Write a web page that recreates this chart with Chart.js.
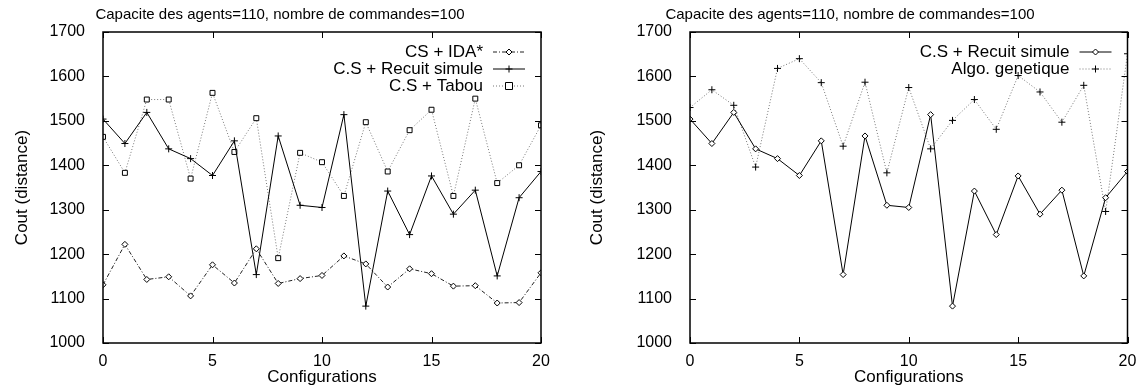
<!DOCTYPE html>
<html>
<head>
<meta charset="utf-8">
<script src="https://cdn.jsdelivr.net/npm/chart.js@4.4.0/dist/chart.umd.min.js"></script>
<style>
  body { margin: 0; background: #fff; }
  .wrap { position: absolute; top: 0; }
</style>
</head>
<body>
<div class="wrap" style="left:0"><canvas id="chartLeft" width="570" height="388"></canvas></div>
<div class="wrap" style="left:570px"><canvas id="chartRight" width="571" height="388"></canvas></div>
<script>
const configs = [0, 1, 2, 3, 4, 5, 6, 7, 8, 9, 10, 11, 12, 13, 14, 15, 16, 17, 18, 19, 20];
const idaStar = [1131, 1222, 1143, 1149, 1106, 1176, 1135, 1212, 1134, 1145, 1152, 1196, 1178, 1126, 1167, 1156, 1128, 1129, 1090, 1091, 1158];
const recuit = [1504, 1449, 1519, 1437, 1415, 1377, 1455, 1154, 1466, 1310, 1305, 1514, 1083, 1342, 1244, 1376, 1290, 1344, 1151, 1327, 1386];
const tabou = [1464, 1383, 1548, 1548, 1370, 1563, 1430, 1506, 1191, 1428, 1407, 1331, 1497, 1386, 1479, 1525, 1331, 1550, 1360, 1400, 1490];
const genetique = [1530, 1570, 1535, 1396, 1618, 1640, 1586, 1443, 1587, 1383, 1575, 1437, 1501, 1548, 1481, 1602, 1565, 1497, 1580, 1296, 1651];
const yTicks = [1000, 1100, 1200, 1300, 1400, 1500, 1600, 1700];
const xTicks = [0, 5, 10, 15, 20];

const titleText = 'Capacite des agents=110, nombre de commandes=100';
const FONT = '"Liberation Sans", Arial, sans-serif';

const toPoints = (vals) => vals.map((v, i) => ({ x: configs[i], y: v }));

// draws a marker the same way in the key
function drawMarker(ctx, style, r, x, y) {
  ctx.beginPath();
  if (style === 'rectRot') {
    ctx.moveTo(x, y - r); ctx.lineTo(x + r, y); ctx.lineTo(x, y + r); ctx.lineTo(x - r, y); ctx.closePath();
    ctx.fillStyle = '#fff'; ctx.fill(); ctx.stroke();
  } else if (style === 'rect') {
    ctx.rect(x - r, y - r, 2 * r, 2 * r);
    ctx.fillStyle = '#fff'; ctx.fill(); ctx.stroke();
  } else {
    ctx.moveTo(x - r, y); ctx.lineTo(x + r, y); ctx.moveTo(x, y - r); ctx.lineTo(x, y + r);
    ctx.stroke();
  }
}

// frame with inward ticks, title + gnuplot style key
const framePlugin = {
  id: 'frame',
  afterDatasetsDraw(chart) {
    const { ctx, chartArea: a, scales } = chart;
    ctx.save();
    ctx.strokeStyle = '#000';
    ctx.lineWidth = 1;
    const tl = 6;
    ctx.beginPath();
    yTicks.forEach(v => {
      const y = Math.round(scales.y.getPixelForValue(v)) + 0.5;
      ctx.moveTo(a.left, y); ctx.lineTo(a.left + tl, y);
      ctx.moveTo(a.right, y); ctx.lineTo(a.right - tl, y);
    });
    xTicks.forEach(v => {
      const x = Math.round(scales.x.getPixelForValue(v)) + 0.5;
      ctx.moveTo(x, a.bottom); ctx.lineTo(x, a.bottom - tl);
      ctx.moveTo(x, a.top); ctx.lineTo(x, a.top + tl);
    });
    ctx.stroke();
    ctx.lineWidth = 1.5;
    ctx.strokeRect(a.left, a.top, a.right - a.left, a.bottom - a.top);

    // title, centred on the canvas like gnuplot does
    ctx.fillStyle = '#000';
    ctx.textAlign = 'center';
    ctx.textBaseline = 'middle';
    ctx.font = '15px ' + FONT;
    ctx.fillText(titleText, 280, 15);

    // key
    ctx.font = '17px ' + FONT;
    ctx.textAlign = 'right';
    chart.data.datasets.forEach((ds, i) => {
      const y = 52 + i * 17;
      ctx.fillStyle = '#000';
      ctx.fillText(ds.label, a.right - 58, y);
      ctx.strokeStyle = ds.borderColor;
      ctx.lineWidth = 1;
      ctx.setLineDash(ds.borderDash || []);
      ctx.beginPath();
      ctx.moveTo(a.right - 48, y); ctx.lineTo(a.right - 16, y);
      ctx.stroke();
      ctx.setLineDash([]);
      ctx.strokeStyle = '#000';
      drawMarker(ctx, ds.pointStyle, ds.pointRadius, a.right - 32, y);
    });
    ctx.restore();
  }
};

function makeOptions(yWidth, yTitlePad, padRight) {
  return {
    responsive: false,
    animation: false,
    devicePixelRatio: 1,
    layout: { padding: { left: 0, right: padRight, top: 32, bottom: 0 } },
    plugins: {
      legend: { display: false },
      tooltip: { enabled: false },
      title: { display: false }
    },
    scales: {
      x: {
        type: 'linear',
        min: 0,
        max: 20,
        grid: { display: false },
        border: { display: false },
        afterBuildTicks: (s) => { s.ticks = xTicks.map(v => ({ value: v })); },
        afterFit: (s) => { s.height = 45; },
        ticks: { color: '#000', padding: 1, maxRotation: 0, font: { family: FONT, size: 16 } },
        title: {
          display: true,
          text: 'Configurations',
          color: '#000',
          padding: { top: 0, bottom: 0 },
          font: { family: FONT, size: 17 }
        }
      },
      y: {
        min: 1000,
        max: 1700,
        grid: { display: false },
        border: { display: false },
        afterBuildTicks: (s) => { s.ticks = yTicks.map(v => ({ value: v })); },
        afterFit: (s) => { s.width = yWidth; },
        ticks: { color: '#000', padding: 10, font: { family: FONT, size: 16 }, callback: (v) => String(v) },
        title: {
          display: true,
          text: 'Cout (distance)',
          color: '#000',
          padding: { top: yTitlePad, bottom: 0 },
          font: { family: FONT, size: 17 }
        }
      }
    }
  };
}

const lineBase = { borderWidth: 1, pointBorderWidth: 1, pointBorderColor: '#000', pointBackgroundColor: '#fff', tension: 0, fill: false };

new Chart(document.getElementById('chartLeft'), {
  type: 'line',
  data: {
    datasets: [
      { ...lineBase, label: 'CS + IDA*', data: toPoints(idaStar), borderColor: '#222', borderDash: [4, 2, 1, 2], pointStyle: 'rectRot', pointRadius: 3 },
      { ...lineBase, label: 'C.S + Recuit simule', data: toPoints(recuit), borderColor: '#000', pointStyle: 'cross', pointRadius: 3.5 },
      { ...lineBase, label: 'C.S + Tabou', data: toPoints(tabou), borderColor: '#777', borderDash: [1, 2], pointStyle: 'rect', pointRadius: 3.5 }
    ]
  },
  options: makeOptions(103, 12, 29),
  plugins: [framePlugin]
});

new Chart(document.getElementById('chartRight'), {
  type: 'line',
  data: {
    datasets: [
      { ...lineBase, label: 'C.S + Recuit simule', data: toPoints(recuit), borderColor: '#000', pointStyle: 'rectRot', pointRadius: 3 },
      { ...lineBase, label: 'Algo. genetique', data: toPoints(genetique), borderColor: '#777', borderDash: [1, 2], pointStyle: 'cross', pointRadius: 3.5 }
    ]
  },
  options: makeOptions(120, 17, 13.5),
  plugins: [framePlugin]
});
</script>
</body>
</html>
